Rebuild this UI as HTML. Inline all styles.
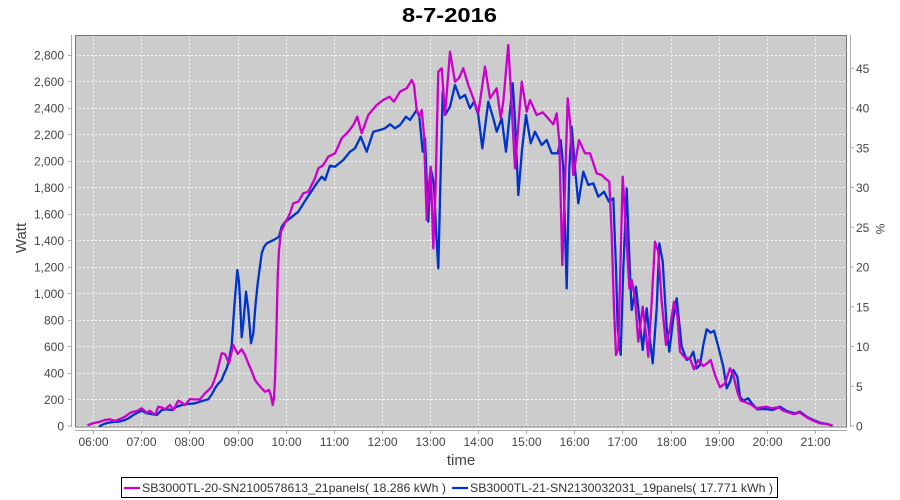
<!DOCTYPE html>
<html><head><meta charset="utf-8"><style>
html,body{margin:0;padding:0;background:#fff;}
svg{display:block;font-family:"Liberation Sans",sans-serif;}
</style></head><body>
<svg width="900" height="500" viewBox="0 0 900 500" xmlns="http://www.w3.org/2000/svg">
<rect x="0" y="0" width="900" height="500" fill="#fff"/>
<text x="402" y="22" font-size="20" font-weight="bold" fill="#000" textLength="95" lengthAdjust="spacingAndGlyphs">8-7-2016</text>
<!-- plot bg -->
<rect x="75" y="35" width="772" height="392" fill="#cccccc"/>
<!-- grid -->
<g stroke="#f4f4f4" stroke-width="1" stroke-dasharray="2,2" fill="none">
<path d="M75 55.5H847M75 81.5H847M75 108.5H847M75 134.5H847M75 161.5H847M75 187.5H847M75 214.5H847M75 240.5H847M75 267.5H847M75 293.5H847M75 320.5H847M75 346.5H847M75 373.5H847M75 399.5H847M75 426H847"/>
<path d="M93.5 35V427M141.5 35V427M189.5 35V427M238.5 35V427M286.5 35V427M334.5 35V427M382.5 35V427M430.5 35V427M478.5 35V427M526.5 35V427M574.5 35V427M622.5 35V427M671.5 35V427M719.5 35V427M767.5 35V427M815.5 35V427"/>
</g>
<rect x="75.5" y="35.5" width="771" height="391.5" fill="none" stroke="#777" stroke-width="1"/>
<!-- axes -->
<g stroke="#aaa" stroke-width="1" fill="none">
<path d="M71.5 35V427"/>
<path d="M75 430.5H847"/>
<path d="M850.5 35V427"/>
<path d="M68 55.5H71.5M68 81.5H71.5M68 108.5H71.5M68 134.5H71.5M68 161.5H71.5M68 187.5H71.5M68 214.5H71.5M68 240.5H71.5M68 267.5H71.5M68 293.5H71.5M68 320.5H71.5M68 346.5H71.5M68 373.5H71.5M68 399.5H71.5M68 426H71.5"/>
<path d="M93.5 430V434M141.5 430V434M189.5 430V434M238.5 430V434M286.5 430V434M334.5 430V434M382.5 430V434M430.5 430V434M478.5 430V434M526.5 430V434M574.5 430V434M622.5 430V434M671.5 430V434M719.5 430V434M767.5 430V434M815.5 430V434"/>
<path d="M850.5 426H854M850.5 386.3H854M850.5 346.5H854M850.5 306.8H854M850.5 267H854M850.5 227.3H854M850.5 187.5H854M850.5 147.8H854M850.5 108H854M850.5 68.3H854"/>
</g>
<g font-size="12" fill="#444" text-anchor="end">
<text x="64" y="59.5">2,800</text><text x="64" y="86">2,600</text><text x="64" y="112.5">2,400</text><text x="64" y="139">2,200</text><text x="64" y="165.5">2,000</text><text x="64" y="192">1,800</text><text x="64" y="218.5">1,600</text><text x="64" y="245">1,400</text><text x="64" y="271.5">1,200</text><text x="64" y="298">1,000</text><text x="64" y="324.5">800</text><text x="64" y="351">600</text><text x="64" y="377.5">400</text><text x="64" y="404">200</text><text x="64" y="430.5">0</text>
</g>
<g font-size="12" fill="#444" text-anchor="start">
<text x="856" y="430.5">0</text><text x="856" y="390.8">5</text><text x="856" y="351">10</text><text x="856" y="311.3">15</text><text x="856" y="271.5">20</text><text x="856" y="231.8">25</text><text x="856" y="192">30</text><text x="856" y="152.3">35</text><text x="856" y="112.5">40</text><text x="856" y="72.8">45</text>
</g>
<g font-size="12" fill="#444" text-anchor="middle">
<text x="93.5" y="446">06:00</text><text x="141.5" y="446">07:00</text><text x="189.5" y="446">08:00</text><text x="238.5" y="446">09:00</text><text x="286.5" y="446">10:00</text><text x="334.5" y="446">11:00</text><text x="382.5" y="446">12:00</text><text x="430.5" y="446">13:00</text><text x="478.5" y="446">14:00</text><text x="526.5" y="446">15:00</text><text x="574.5" y="446">16:00</text><text x="622.5" y="446">17:00</text><text x="671.5" y="446">18:00</text><text x="719.5" y="446">19:00</text><text x="767.5" y="446">20:00</text><text x="815.5" y="446">21:00</text>
</g>
<text x="461" y="465" text-anchor="middle" font-size="15" fill="#444">time</text>
<text transform="translate(26,238) rotate(-90)" text-anchor="middle" font-size="15" fill="#444">Watt</text>
<text transform="translate(876,229) rotate(90)" text-anchor="middle" font-size="12" fill="#444">%</text>
<!-- series -->
<g fill="none" stroke-width="2.3" stroke-linejoin="round" stroke-linecap="round">
<polyline stroke="#0033cc" points="100,426 104,424 108.3,422.7 113,422 118.3,421.7 125,420 129,418 133.3,415 137,413 141.7,410.7 146.7,413.3 151,414 156.7,415 161.7,410 166.7,409.3 171.7,410 176,407 181.7,405 188,404 195,403.3 202,401 208.3,399.3 212,394 215,388.3 218,384 221.7,380 224,374 226.7,368.3 229,360 231.7,345 234.3,306.7 237.3,270 239,282 240,300 241.7,337.3 243.3,323.3 246,291.7 248.3,310 251,343.3 253.3,333.3 255.5,305 257.7,283.3 261.7,253.3 264,247 266.7,243.3 270,241.7 275,239.3 279,236.7 281.7,226.7 285,222 290,218.3 298.3,211.7 306.7,198.3 316.7,183.3 321.7,176.7 325,180 330,165.7 335,166.7 343.3,160 350,151.7 355,148.3 360.7,136.7 366.7,151.7 373.3,131.7 380,130 385,128.3 390,124.3 395,128.3 400,125 406,116.7 410,120 416.7,110 419.3,116.7 422.7,151.7 425,138.3 428.3,221.7 430.7,168.3 434,185 436,230 438.3,268.3 440,200 442.7,91.7 445,115 450,106.7 455,85 460,98.3 465,95 470,108.3 474,101.7 478.3,115 482.3,148.3 488.3,101.7 493.3,118.3 496.7,131.7 501.7,118.3 506,151.7 512.7,83.3 515,120 518.3,195 522,150 526,115 530.7,143.3 535,131.7 541.7,145 546.7,140 551.7,153.3 557.7,153.3 560.7,140 563.3,168.3 566.7,288.3 569.3,168.3 571.7,126.7 575,168.3 578.3,203.3 583.3,171.7 588.3,185 593.3,183.3 598.3,196.7 604,191.7 609,201.7 613.3,198.3 616,268.3 617.7,328.3 620.7,355 623.3,268.3 626.7,188.3 630,275 631.7,310 636,286.7 640,325 642.7,350 646.7,308.3 649.3,335 652.7,363.3 656.7,308.3 659.3,243.3 662.7,261.7 666.7,328.3 669.3,351.7 673.3,318.3 676.7,298.3 681.7,346.7 686.7,360 690,358.3 693.3,351.7 696.7,368.3 700,365 703.3,345 706.7,329.3 710.7,332.7 714,330.7 718.3,346.7 723.3,366.7 726.7,388.3 730,381.7 733.3,370 737.3,376.7 740,396.7 743.3,400.7 748.3,398.3 751.7,403.3 757.3,409.3 763.3,409 767.3,409.3 772.7,410 776.7,408.3 780,406.7 786.7,411 795,413.3 800,411.7 806.7,416.7 813.3,420 820,422.7 826.7,424 831.7,425.3"/>
<polyline stroke="#cc00cc" points="88.3,425 94,423 100,421.7 105,420 110,419.3 115,421 120,419 125,416.7 130,413 133.3,411.7 137,411 141.7,408.3 146.7,412.7 150,410.7 155,415 158.3,406.7 162,407.5 165,409.3 170,405 173.3,410 178.3,400.7 181,402 185,405 190,399 195,399.5 200,399.3 205,393.3 208,390.5 211.7,386.7 214,381 216.7,373.3 219,364 221.7,353.3 225,354 229,363.3 233.3,345 237.7,354 241.7,349.3 245,355 248.3,363.3 252,372 255,380 258,384 261.7,388.3 265,391.7 269,390 271,396 272.7,405 274,398 275,380 276.5,330 277.7,276.7 279,250 281,231.7 285,223.3 290,213.3 293.3,203.3 298.3,201.7 303.3,193.3 308.3,191.7 315,178.3 318.3,168.3 323.3,165 328.3,156.7 335,153.3 341.7,138.3 348.3,131.7 353.3,125 357.3,116.7 361.7,133.3 368.3,115 376.7,105 383.3,100 389.3,96.7 394,101.7 400,91.7 406.7,88.3 411.7,80 414,85 416.7,110 419.3,116.7 421.7,110 424,135 426.7,220 429,185 430.7,166.7 433.3,248.3 435.5,190 438.3,71.7 441.7,68.3 445,115 450,51.7 455,81.7 459,78 463.3,68.3 468.3,85 473.3,98.3 478.3,113.3 485,66.7 490,98.3 496.7,88.3 500.7,118.3 503.3,101.7 508.3,45 510,75 515,168.3 521.7,81.7 526.7,111.7 530,100 536.7,115 542.7,112.3 546.7,116.7 553.3,124.3 556.7,113.3 559.3,141.7 562.3,265 565,185 567.7,98.3 570,121.7 573.3,175 579,140 585,153.3 590,153.3 596.7,173.3 601.7,175 605,178.3 609.3,181.7 611.7,235 614,308.3 616,355 618.3,348.3 622.7,176.7 626.7,241.7 629.3,288.3 631.7,280 635,298.3 638.3,341.7 642.7,306.7 645,325 648.3,356.7 651.7,301.7 655,241.7 658.3,251.7 661.7,301.7 666,345 670,328.3 674,301.7 677.3,315 680,351.7 685,357.7 690,358.3 694,369.3 698.3,360 703.3,366 707.3,363.3 710.7,360 715,375 720,387.3 725,383.3 730,368.3 733.3,375 737.3,391.7 740.7,400.7 746.7,402.7 751.7,405 756,408.3 761.7,407.3 766.7,406.7 771.7,408.3 778.3,407.3 783.3,410.7 793.3,414 800,412.7 806.7,417.3 813.3,420.7 820,423.3 826.7,424 831.7,425.3"/>
</g>
<!-- legend -->
<rect x="121.5" y="477.5" width="656" height="20" fill="#fff" stroke="#000" stroke-width="1"/>
<path d="M124 488H140" stroke="#cc00cc" stroke-width="2.2"/>
<path d="M452 488H468" stroke="#0033cc" stroke-width="2.2"/>
<g font-size="12" fill="#333">
<text x="142" y="492" textLength="304" lengthAdjust="spacingAndGlyphs">SB3000TL-20-SN2100578613_21panels( 18.286 kWh )</text>
<text x="470" y="492" textLength="303" lengthAdjust="spacingAndGlyphs">SB3000TL-21-SN2130032031_19panels( 17.771 kWh )</text>
</g>
</svg>
</body></html>
